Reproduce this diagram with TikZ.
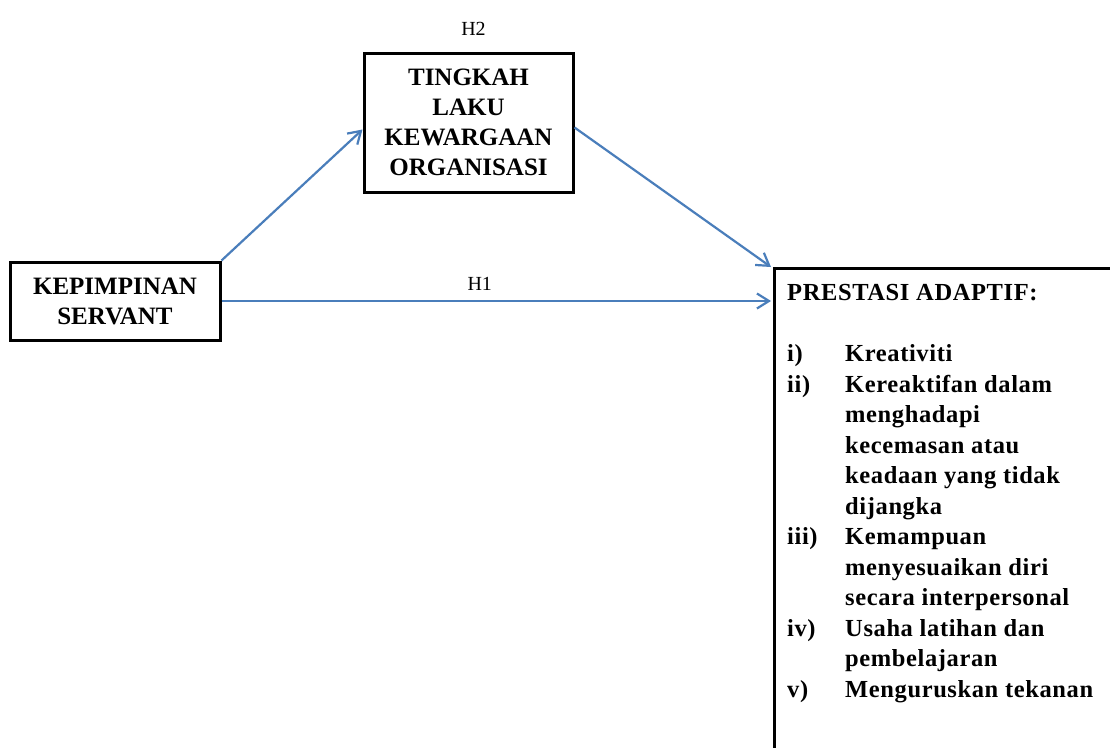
\documentclass[tikz,border=0pt]{standalone}
\usepackage{fontspec}
\setmainfont{Liberation Serif}
\newfontfamily\spacedserif[LetterSpace=2.5]{Liberation Serif}
\usetikzlibrary{positioning, arrows.meta, calc}
\definecolor{linkblue}{HTML}{4A7EBB}
\tikzset{
  box/.style  ={draw, line width=3pt, align=center, inner sep=0pt,
                font=\bfseries\fontsize{25}{30}\selectfont},
  frame/.style={draw, line width=3pt, inner sep=0pt},
  list/.style ={align=left, inner sep=0pt,
                font=\spacedserif\bfseries\fontsize{24.5}{30.5}\selectfont},
  link/.style ={-{Straight Barb[length=12pt, width=15pt]}, linkblue, line width=2.2pt},
  hyp/.style  ={text=black, font=\fontsize{20}{24}\selectfont},
}

\begin{document}
\begin{tikzpicture}[x=1pt, y=-1pt]
  \useasboundingbox (0,0) rectangle (1110,747);
  \clip (0,0) rectangle (1110,747);
  \fill[white] (0,0) rectangle (1110,747);
  % the three variables
  \node[box, minimum width=210pt, minimum height=78pt] (servant) at (115,301) {KEPIMPINAN\\SERVANT};
  \node[box, minimum width=209pt, minimum height=139pt] (ocb) at (468.5,122.5) {TINGKAH\\LAKU\\KEWARGAAN\\ORGANISASI};
  \node[frame, minimum width=420pt, minimum height=520pt, anchor=north west] (adaptif) at (773,267) {};
  \node[list, anchor=north west] (adaptiflist) at ([shift={(14pt,-12pt)}]adaptif.north west) {%
    \begin{tabular}{@{}p{58pt}@{}l@{}}
      \multicolumn{2}{@{}l}{PRESTASI ADAPTIF:}\\
      \\
      i)   & Kreativiti\\
      ii)  & Kereaktifan dalam\\
           & menghadapi\\
           & kecemasan atau\\
           & keadaan yang tidak\\
           & dijangka\\
      iii) & Kemampuan\\
           & menyesuaikan diri\\
           & secara interpersonal\\
      iv)  & Usaha latihan dan\\
           & pembelajaran\\
      v)   & Menguruskan tekanan\\
    \end{tabular}};
  \node[hyp, above=12pt of ocb, xshift=5pt] (h2) {H2};
  % paths
  \draw[link] (servant.north east) -- ([yshift=-7pt]ocb.west);
  \draw[link] ([yshift=-5pt]ocb.east) -- ([xshift=-2pt]adaptif.north west);
  \draw[link] (servant.east) -- node[hyp, above=6pt, pos=0.47] (h1) {H1} ($(servant.east -| adaptif.west)+(-2pt,0)$);
\end{tikzpicture}
\end{document}
